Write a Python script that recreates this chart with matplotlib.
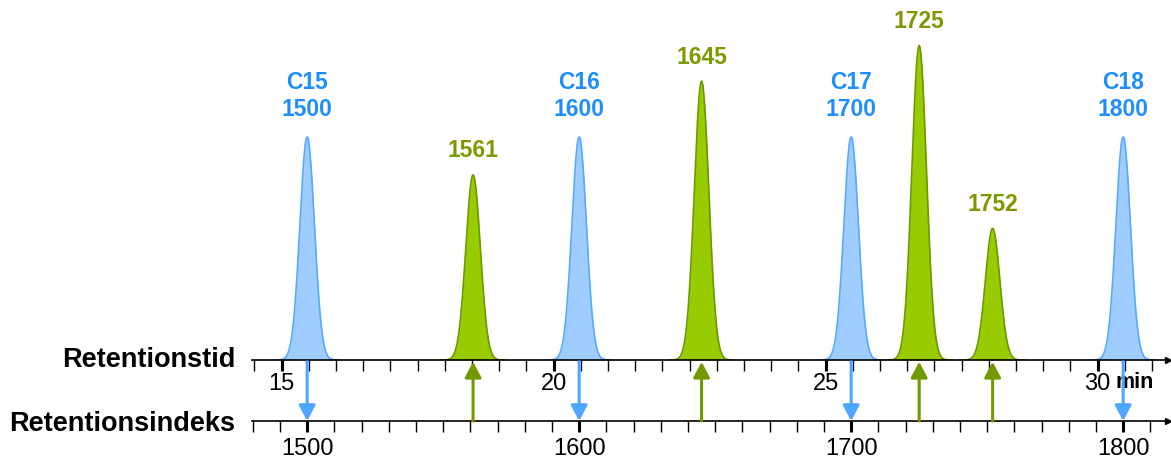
import numpy as np
import matplotlib
matplotlib.use("Agg")
import matplotlib.pyplot as plt
import matplotlib.transforms as mtransforms

plt.rcParams['font.family'] = ['Liberation Sans', 'DejaVu Sans']

# n-alkane standards (blue) and unknown compounds (green)
std_names = ["C15", "C16", "C17", "C18"]
std_ri = [1500, 1600, 1700, 1800]
std_time = [15.47, 20.47, 25.47, 30.47]   # retention time, min
std_height = [100, 100, 100, 100]

unk_ri = [1561, 1645, 1725, 1752]
unk_height = [83, 125, 141, 59]

time_ticks = [15, 20, 25, 30]
ri_ticks = [1500, 1600, 1700, 1800]

blue_fill, blue_edge, blue_arrow, blue_text = "#9FCDFF", "#55AAFF", "#4DA6FF", "#1E8EFF"
green_fill, green_edge, green_arrow, green_text = "#99CC00", "#6B9900", "#739900", "#7A9A01"

# linear relation between time and retention index (from the standards)
slope = (std_ri[1] - std_ri[0]) / (std_time[1] - std_time[0])

def t2ri(t):
    return std_ri[0] + (np.asarray(t) - std_time[0]) * slope

def ri2t(ri):
    return std_time[0] + (np.asarray(ri) - std_ri[0]) / slope

unk_time = ri2t(np.array(unk_ri))

W, H = 1171, 459
fig = plt.figure(figsize=(W / 100, H / 100), dpi=100)
ax = fig.add_axes([252 / W, (H - 360) / H, (1168 - 252) / W, 360 / H])

px_per_min = 54.4
ax.set_xlim(15 + (252 - 281.6) / px_per_min, 15 + (1168 - 281.6) / px_per_min)
ax.set_ylim(0, 161.4)

sigma = 0.134

def peak(t0, h, fill, edge):
    x = np.linspace(t0 - 4.5 * sigma, t0 + 4.5 * sigma, 200)
    y = h * np.exp(-0.5 * ((x - t0) / sigma) ** 2)
    ax.fill_between(x, 0, y, color=fill, lw=0, zorder=1)
    ax.plot(x, y, color=edge, lw=1.2, zorder=1.5)

for name, ri, t, h in zip(std_names, std_ri, std_time, std_height):
    peak(t, h, blue_fill, blue_edge)
    ax.annotate(f"{name}\n{ri}", xy=(t, h), xytext=(0, 11.5), textcoords="offset points",
                ha="center", va="bottom", fontsize=16.5, fontweight="bold",
                color=blue_text, linespacing=1.2)

for ri, t, h in zip(unk_ri, unk_time, unk_height):
    peak(t, h, green_fill, green_edge)
    ax.annotate(f"{ri}", xy=(t, h), xytext=(0, 9), textcoords="offset points",
                ha="center", va="bottom", fontsize=16.5, fontweight="bold",
                color=green_text)

# time axis
for s in ["top", "right", "left"]:
    ax.spines[s].set_visible(False)
ax.spines["bottom"].set_linewidth(1.2)
ax.set_yticks([])
ax.set_xticks(time_ticks)
ax.set_xticks(np.arange(14.5, 31.01, 0.5), minor=True)
ax.tick_params(axis="x", which="major", length=8, width=2.2, labelsize=17, pad=1)
ax.tick_params(axis="x", which="minor", length=8, width=1.0)

# retention index axis
loc = (360 - 421) / 360
sec = ax.secondary_xaxis(loc, functions=(t2ri, ri2t))
sec.spines["bottom"].set_linewidth(1.2)
sec.set_xticks(ri_ticks)
sec.set_xticks(np.arange(1480, 1811, 10), minor=True)
sec.tick_params(axis="x", which="major", length=8, width=2.2, labelsize=17, pad=4)
sec.tick_params(axis="x", which="minor", length=8, width=1.0)

# axis end arrows
ax.plot([1, 1], [0, loc], ">", color="black", ms=5, transform=ax.transAxes, clip_on=False)

trans = mtransforms.blended_transform_factory(ax.transData, ax.transAxes)
ax.text(30.33, (360 - 383) / 360, "min", transform=trans, ha="left", va="center",
        fontsize=15.5, fontweight="bold")

# arrows between the axes
arrow_kw = dict(arrowstyle="-|>,head_length=0.47,head_width=0.25", lw=2.2,
                mutation_scale=20, shrinkA=0, shrinkB=0)
for t in std_time:
    ax.annotate("", xy=(t, loc), xytext=(t, -0.005), xycoords=trans, textcoords=trans,
                arrowprops=dict(color=blue_arrow, **arrow_kw))
for t in unk_time:
    ax.annotate("", xy=(t, -0.005), xytext=(t, loc), xycoords=trans, textcoords=trans,
                arrowprops=dict(color=green_arrow, **arrow_kw))

fig.text(235 / W, (H - 360) / H, "Retentionstid", ha="right", va="center",
         fontsize=19.5, fontweight="bold")
fig.text(235 / W, (H - 424) / H, "Retentionsindeks", ha="right", va="center",
         fontsize=19.5, fontweight="bold")

fig.savefig("out.png", dpi=100)
